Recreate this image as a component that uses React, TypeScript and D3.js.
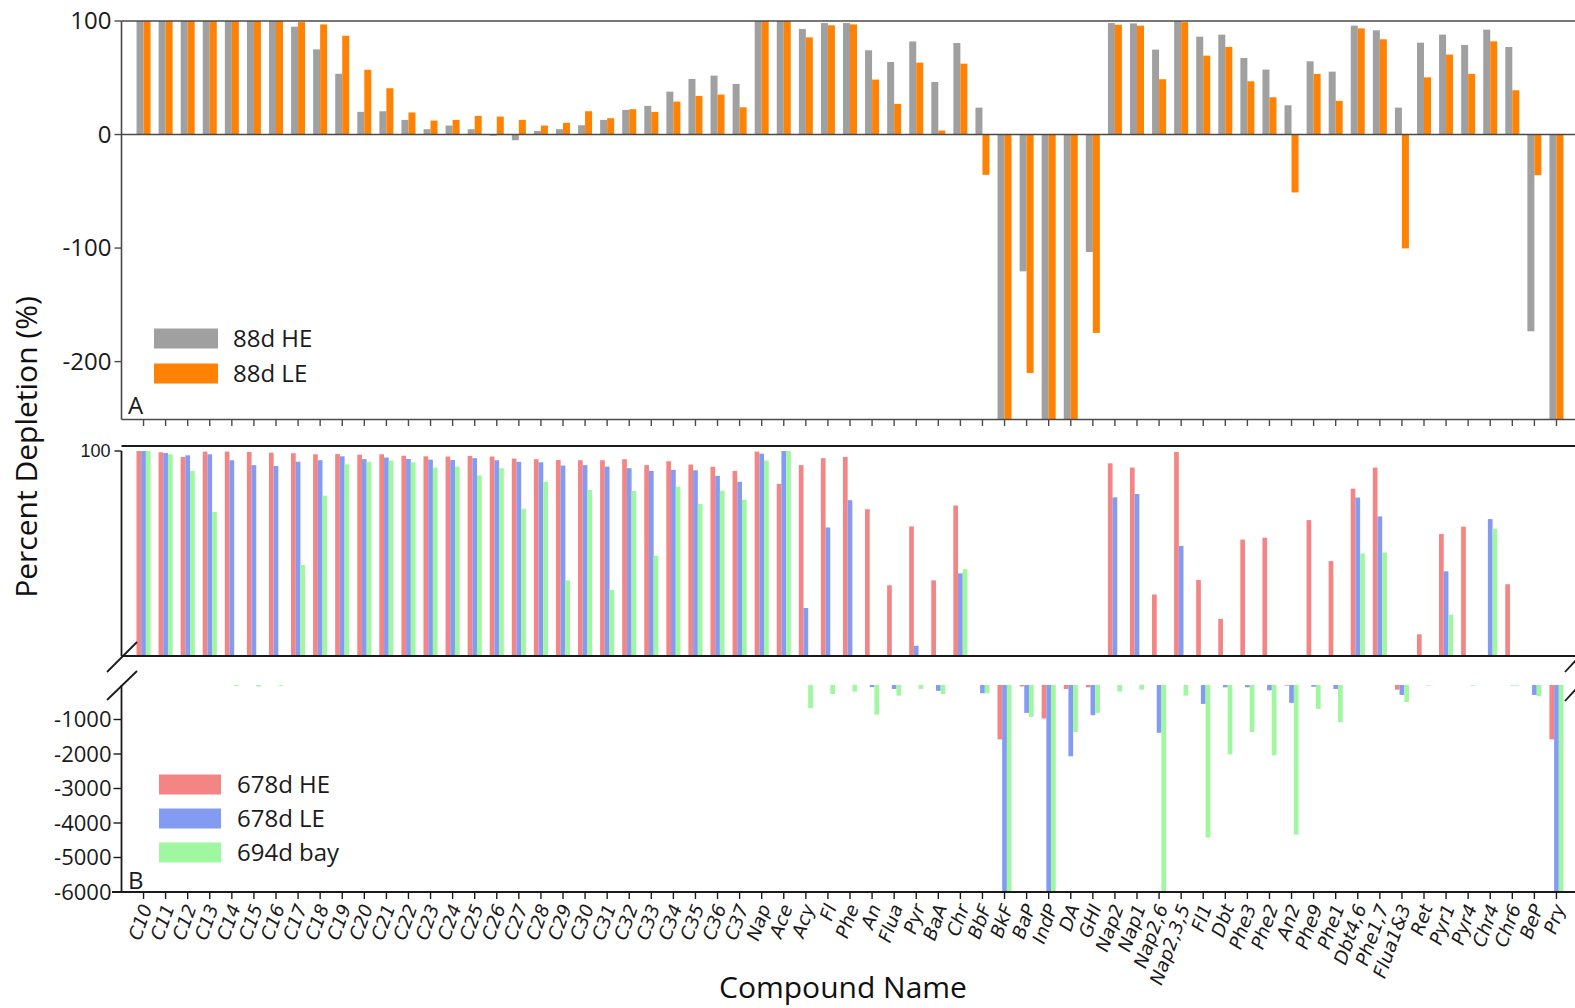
import { select, scaleBand, scaleLinear } from 'd3';
import { useEffect, useRef } from 'react';

// compound names along the x axis (shared by both panels)
const categories = [
  'C10', 'C11', 'C12', 'C13', 'C14', 'C15', 'C16', 'C17', 'C18', 'C19',
  'C20', 'C21', 'C22', 'C23', 'C24', 'C25', 'C26', 'C27', 'C28', 'C29',
  'C30', 'C31', 'C32', 'C33', 'C34', 'C35', 'C36', 'C37', 'Nap', 'Ace',
  'Acy', 'Fl', 'Phe', 'An', 'Flua', 'Pyr', 'BaA', 'Chr', 'BbF', 'BkF',
  'BaP', 'IndP', 'DA', 'GHI', 'Nap2', 'Nap1', 'Nap2,6', 'Nap2,3,5', 'Fl1', 'Dbt',
  'Phe3', 'Phe2', 'An2', 'Phe9', 'Phe1', 'Dbt4,6', 'Phe1,7', 'Flua1&3', 'Ret', 'Pyr1',
  'Pyr4', 'Chr4', 'Chr6', 'BeP', 'Pry',
];

// panel A - 88 days
const he88 = [
  100, 100, 100, 100, 100, 100, 100, 95, 75, 53.5,
  20, 20.5, 12.9, 4.7, 7.9, 4.7, -1, -5, 3.2, 4.7,
  8.2, 12.9, 21.7, 25.2, 37.8, 49, 51.9, 44.6, 100, 100,
  93, 98.2, 98.2, 74.2, 63.9, 82, 46.3, 80.6, 23.7, -260,
  -120.5, -260, -260, -103.5, 98.2, 97.9, 74.8, 100, 86.2, 88,
  67.4, 57.2, 25.8, 64.5, 55.4, 95.9, 91.8, 23.7, 80.9, 88,
  78.9, 92.4, 77.1, -173.3, -260,
];
const le88 = [
  100, 100, 100, 100, 100, 100, 100, 99, 97, 87,
  57, 40.8, 19.4, 12.3, 12.9, 16.4, 15.8, 12.9, 7.9, 10.3,
  20.5, 14.4, 22.3, 19.9, 29, 34, 35.2, 24, 100, 100,
  85.6, 96.2, 97, 48.4, 27, 63.3, 3.5, 62.4, -35.5, -260,
  -210, -260, -260, -174.7, 96.7, 95.9, 48.7, 99, 69.5, 77.1,
  46.9, 32.8, -51, 53.4, 29.6, 93.5, 83.9, -100.3, 50.4, 70.4,
  53.4, 82.1, 39, -35.8, -260,
];

// panel B - 678 / 694 days
const he678 = [
  100, 99.4, 97.1, 99.7, 99.7, 99.5, 99.2, 98.9, 98.4, 98.5,
  98.2, 98.4, 97.7, 97.4, 97.3, 97.6, 97.3, 96.3, 96, 95.6,
  95.5, 95.5, 96, 93.1, 95, 93.4, 92.3, 90.3, 99.7, 84,
  93.1, 96.5, 97.1, 71.6, 34.5, 63.2, 36.9, 73.4, 0, -1577,
  -40, -971, -115, -67, 94, 91.9, 30, 99.5, 37.1, 18.1,
  56.8, 57.7, -20, 66.3, 46.3, 81.6, 91.9, -135, 10.6, 59.5,
  63.1, 0, 35, 0, -1577,
];
const le678 = [
  100, 99, 97.9, 98.4, 95.5, 93.1, 92.7, 94.8, 95.5, 97.4,
  96, 96.8, 96.1, 95.8, 95.6, 96.5, 95.5, 94.7, 94.5, 92.9,
  93.1, 92.4, 91.6, 90.3, 90.8, 90.6, 87.9, 85, 98.7, 100,
  23.4, 62.7, 76, -60, -115, 5, -170, 40.3, -240, -6000,
  -808, -6000, -2067, -875, 77.4, 79, -1385, 53.7, -548, -67,
  -67, -154, -519, -50, -115, 77.3, 68.1, -288, 0, 41.3,
  0, 66.8, -10, -288, -6000,
];
const bay694 = [
  100, 98.4, 90.3, 70.2, -30, -40, -20, 44.4, 78.2, 93.5,
  94.7, 95.3, 94.5, 91.9, 92.4, 88.1, 91.6, 71.8, 85, 36.9,
  81, 32.3, 80.5, 48.9, 82.6, 74.2, 80.6, 76.3, 95.3, 100,
  -670, -260, -190, -855, -310, -115, -260, 42.3, -240, -6000,
  -923, -6000, -1365, -808, -190, -135, -6000, -308, -4423, -2010,
  -1365, -2038, -4336, -692, -1077, 50, 50.5, -490, -20, 20.2,
  -20, 62.1, -20, -327, -6000,
];

const topTicks = [100, 0, -100, -200];
const lowTicks = [-1000, -2000, -3000, -4000, -5000, -6000];

const seriesA = [
  { name: '88d HE', values: he88, color: '#a0a0a0' },
  { name: '88d LE', values: le88, color: '#ff8204' },
];
const seriesB = [
  { name: '678d HE', values: he678, color: '#f38585' },
  { name: '678d LE', values: le678, color: '#839bf3' },
  { name: '694d bay', values: bay694, color: '#9ff79f' },
];

const App = () => {
  const svgRef = useRef(null);

  useEffect(() => {
    const svg = select(svgRef.current);
    svg.selectAll('*').remove();

    const axisX = 121.5;
    const right = 1575;
    const sans = "'Open Sans', sans-serif";

    const x = scaleBand().domain(categories).range([132.5, 1567.5]);
    const cx = (c) => x(c) + x.bandwidth() / 2;

    // ---------- panel A ----------
    const yTop = scaleLinear().domain([-251, 100]).range([419.5, 21]).clamp(true);
    const gA = svg.append('g');
    const barW = 7;
    seriesA.forEach((s, si) => {
      gA.append('g')
        .selectAll('rect')
        .data(categories)
        .enter()
        .append('rect')
        .attr('x', (c) => cx(c) - barW + si * barW)
        .attr('width', barW)
        .attr('y', (c, i) => Math.min(yTop(s.values[i]), yTop(0)))
        .attr('height', (c, i) => Math.abs(yTop(s.values[i]) - yTop(0)))
        .attr('fill', s.color);
    });
    const lineA = '#4a4a4a';
    [21, yTop(0), 419.5].forEach((yy) => {
      gA.append('line')
        .attr('x1', axisX).attr('x2', right).attr('y1', yy).attr('y2', yy)
        .attr('stroke', lineA).attr('stroke-width', 1.6);
    });
    gA.append('line')
      .attr('x1', axisX).attr('x2', axisX).attr('y1', 21).attr('y2', 419.5)
      .attr('stroke', lineA).attr('stroke-width', 1.6);
    topTicks.forEach((t) => {
      gA.append('line')
        .attr('x1', axisX - 7).attr('x2', axisX).attr('y1', yTop(t)).attr('y2', yTop(t))
        .attr('stroke', lineA).attr('stroke-width', 1.4);
      gA.append('text')
        .attr('x', axisX - 10).attr('y', yTop(t)).attr('dy', '0.35em')
        .attr('text-anchor', 'end')
        .style('font-family', sans).style('font-size', '24px').attr('fill', '#1a1a1a')
        .text(t);
    });
    gA.append('g')
      .selectAll('line')
      .data(categories)
      .enter()
      .append('line')
      .attr('x1', cx).attr('x2', cx).attr('y1', 419.5).attr('y2', 426)
      .attr('stroke', lineA).attr('stroke-width', 1.4);
    // legend A
    seriesA.forEach((s, i) => {
      const ly = 328.5 + i * 35;
      gA.append('rect').attr('x', 154).attr('y', ly).attr('width', 64).attr('height', 20)
        .attr('fill', s.color);
      gA.append('text').attr('x', 233).attr('y', ly + 10).attr('dy', '0.35em')
        .style('font-family', sans).style('font-size', '24px').attr('fill', '#1a1a1a')
        .text(s.name);
    });
    gA.append('text').attr('x', 128).attr('y', 414)
      .style('font-family', sans).style('font-size', '24px').attr('fill', '#1a1a1a')
      .text('A');

    // ---------- panel B (broken axis) ----------
    const yMid = scaleLinear().domain([0, 100]).range([656, 451]).clamp(true);
    const yLow = scaleLinear().domain([-6000, 0]).range([892, 685]).clamp(true);
    const gB = svg.append('g');
    const bw = 4.7;
    seriesB.forEach((s, si) => {
      const g = gB.append('g');
      g.selectAll('rect.pos')
        .data(categories.filter((c, i) => s.values[i] > 0))
        .enter()
        .append('rect')
        .attr('x', (c) => cx(c) - 1.5 * bw + si * bw)
        .attr('width', bw)
        .attr('y', (c) => yMid(s.values[categories.indexOf(c)]))
        .attr('height', (c) => yMid(0) - yMid(s.values[categories.indexOf(c)]))
        .attr('fill', s.color);
      g.selectAll('rect.neg')
        .data(categories.filter((c, i) => s.values[i] < 0))
        .enter()
        .append('rect')
        .attr('x', (c) => cx(c) - 1.5 * bw + si * bw)
        .attr('width', bw)
        .attr('y', yLow(0))
        .attr('height', (c) => yLow(s.values[categories.indexOf(c)]) - yLow(0))
        .attr('fill', s.color);
    });
    const lineB = '#1a1a1a';
    const seg = (g, x1, y1, x2, y2, w = 1.8) =>
      g.append('line').attr('x1', x1).attr('y1', y1).attr('x2', x2).attr('y2', y2)
        .attr('stroke', lineB).attr('stroke-width', w);
    seg(gB, axisX, 446, right, 446, 2);
    seg(gB, axisX, 656, right, 656, 2);
    seg(gB, axisX, 451, axisX, 656);
    seg(gB, axisX - 7, yMid(100), axisX, yMid(100), 1.4);
    gB.append('text').attr('x', axisX - 11).attr('y', yMid(100)).attr('dy', '0.35em')
      .attr('text-anchor', 'end')
      .style('font-family', "'Liberation Sans', Arial, sans-serif").style('font-size', '18px')
      .attr('fill', '#1a1a1a')
      .text('100');
    // break marks
    seg(gB, 107, 672, 137, 642, 1.8);
    seg(gB, 107, 700, 137, 671, 1.8);
    seg(gB, 1565, 672, 1577, 659, 1.8);
    seg(gB, 1565, 701, 1577, 688, 1.8);

    seg(gB, axisX, 685, axisX, 892);
    seg(gB, 112, 892, right, 892, 2);
    lowTicks.forEach((t) => {
      seg(gB, axisX - 8, yLow(t), axisX, yLow(t), 1.4);
      gB.append('text').attr('x', axisX - 10).attr('y', yLow(t)).attr('dy', '0.35em')
        .attr('text-anchor', 'end')
        .style('font-family', sans).style('font-size', '22px').attr('fill', '#1a1a1a')
        .text(t);
    });
    gB.append('g')
      .selectAll('line')
      .data(categories)
      .enter()
      .append('line')
      .attr('x1', cx).attr('x2', cx).attr('y1', 892).attr('y2', 899)
      .attr('stroke', lineB).attr('stroke-width', 1.4);
    gB.append('g')
      .selectAll('text')
      .data(categories)
      .enter()
      .append('text')
      .attr('transform', (c) => `translate(${cx(c) + 3},${905}) rotate(-70)`)
      .attr('dy', '0.35em')
      .attr('text-anchor', 'end')
      .style('font-family', "'DejaVu Sans', sans-serif")
      .style('font-style', 'italic')
      .style('font-size', '18.5px')
      .attr('fill', '#1a1a1a')
      .text((c) => c);
    // legend B
    seriesB.forEach((s, i) => {
      const ly = 774.5 + i * 34;
      gB.append('rect').attr('x', 159).attr('y', ly).attr('width', 62).attr('height', 20)
        .attr('fill', s.color);
      gB.append('text').attr('x', 237).attr('y', ly + 10).attr('dy', '0.35em')
        .style('font-family', sans).style('font-size', '24px').attr('fill', '#1a1a1a')
        .text(s.name);
    });
    gB.append('text').attr('x', 128).attr('y', 889)
      .style('font-family', sans).style('font-size', '24px').attr('fill', '#1a1a1a')
      .text('B');

    // axis titles
    svg.append('text')
      .attr('x', 843).attr('y', 998)
      .attr('text-anchor', 'middle')
      .style('font-family', sans).style('font-size', '30px').attr('fill', '#111')
      .text('Compound Name');
    svg.append('text')
      .attr('transform', 'translate(37,447) rotate(-90)')
      .attr('text-anchor', 'middle')
      .style('font-family', sans).style('font-size', '30px').attr('fill', '#111')
      .text('Percent Depletion (%)');
  }, []);

  return (
    <svg
      ref={svgRef}
      width={1575}
      height={1008}
      style={{ position: 'absolute', left: 0, top: 0, background: '#fff' }}
    />
  );
};

export default App;
